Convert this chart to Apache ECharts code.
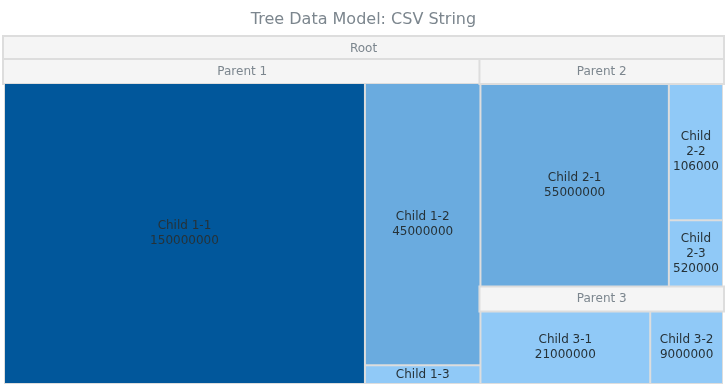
<!DOCTYPE html>
<html>
<head>
<meta charset="utf-8">
<script src="https://cdn.jsdelivr.net/npm/echarts@6/dist/echarts.min.js"></script>
<style>
html,body{margin:0;padding:0;background:#fff;}
#chart{width:727px;height:390px;}
</style>
</head>
<body>
<div id="chart"></div>
<script>
const titleText = 'Tree Data Model: CSV String';
const rootName = 'Root';
const parentNames = ['Parent 1', 'Parent 2', 'Parent 3'];
const childNames = ['Child 1-1', 'Child 1-2', 'Child 1-3', 'Child 2-1', 'Child 2-2', 'Child 2-3', 'Child 3-1', 'Child 3-2'];
const childParents = [0, 0, 0, 1, 1, 1, 2, 2];
const childValues = [150000000, 45000000, 3000000, 55000000, 10600000, 5200000, 21000000, 9000000];

function colorFor(v) {
  if (v >= 100000000) return '#01579b';
  if (v >= 30000000) return '#6aabdf';
  return '#90c9f7';
}

const parents = parentNames.map(function (n, pi) {
  const kids = [];
  childNames.forEach(function (cn, ci) {
    if (childParents[ci] === pi) {
      kids.push({ name: cn, value: childValues[ci], itemStyle: { color: colorFor(childValues[ci]) } });
    }
  });
  return { name: n, children: kids };
});
const treeData = [{ name: rootName, children: parents }];

const FONT = 'DejaVu Sans';
const LINE = '#dddddd';
const headerLabel = {
  show: true,
  position: 'inside',
  align: 'center',
  verticalAlign: 'middle',
  color: '#7c868e',
  fontSize: 12,
  fontFamily: FONT,
  backgroundColor: '#f5f5f5',
  borderColor: LINE,
  borderWidth: 2,
  padding: 0,
  height: 23
};

// text measuring used to clip labels that do not fit their cell
const measureCtx = document.createElement('canvas').getContext('2d');
measureCtx.font = '12px "' + FONT + '"';
function tw(s) { return measureCtx.measureText(s).width; }
function fitLines(text, maxW) {
  const words = String(text).split(' ');
  const lines = [];
  let cur = '';
  words.forEach(function (w) {
    const cand = cur ? cur + ' ' + w : w;
    if (tw(cand) <= maxW || !cur) { cur = cand; } else { lines.push(cur); cur = w; }
  });
  if (cur) lines.push(cur);
  return lines.map(function (l) {
    let s = l;
    while (s.length > 1 && tw(s) > maxW) s = s.slice(0, -1);
    return s;
  });
}
const cellWidth = {};
function leafFormatter(p) {
  const w = cellWidth[p.name];
  if (!w) return p.name + '\n' + p.value;
  const avail = w - 4;
  return fitLines(p.name, avail).concat(fitLines(String(p.value), avail)).join('\n');
}

const chart = echarts.init(document.getElementById('chart'), null, { renderer: 'canvas' });
function buildOption() {
  return {
    animation: false,
    title: {
      text: titleText,
      left: 'center',
      top: 12,
      padding: 0,
      textStyle: { color: '#7c868e', fontSize: 16, fontWeight: 'normal', fontFamily: FONT }
    },
    tooltip: { show: false },
    series: [{
      type: 'treemap',
      left: 4, top: 37, right: 4, bottom: 6,
      roam: false,
      nodeClick: false,
      breadcrumb: { show: false },
      emphasis: { disabled: true },
      data: treeData,
      label: {
        show: true,
        position: 'inside',
        align: 'center',
        verticalAlign: 'middle',
        formatter: leafFormatter,
        color: '#263238',
        fontSize: 12,
        lineHeight: 15,
        fontFamily: FONT,
        overflow: 'truncate',
        ellipsis: '',
        padding: [0, 2]
      },
      levels: [
        { itemStyle: { borderWidth: 0, gapWidth: 0, borderColor: LINE } },
        { itemStyle: { borderWidth: 0, gapWidth: 0, borderColor: LINE }, upperLabel: headerLabel },
        { itemStyle: { borderWidth: 0, gapWidth: 0, borderColor: LINE }, upperLabel: headerLabel },
        { itemStyle: { borderWidth: 1, gapWidth: 0, borderColor: LINE } }
      ]
    }]
  };
}
chart.setOption(buildOption());
try {
  const data = chart.getModel().getSeriesByIndex(0).getData();
  data.tree.root.eachNode(function (node) {
    const l = node.getLayout();
    if (l && (!node.children || !node.children.length)) {
      cellWidth[node.name] = l.width - 2 * (l.borderWidth || 0);
    }
  });
  chart.setOption(buildOption());
} catch (e) { /* keep default labels */ }
</script>
</body>
</html>
